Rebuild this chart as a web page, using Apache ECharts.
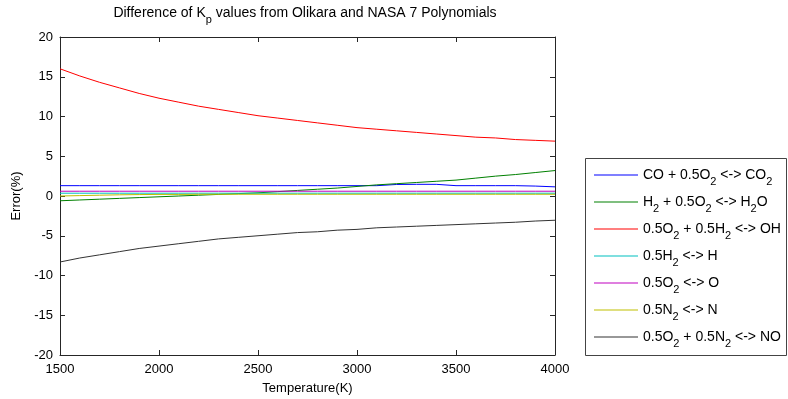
<!DOCTYPE html>
<html>
<head>
<meta charset="utf-8">
<script src="https://cdn.jsdelivr.net/npm/echarts@6/dist/echarts.min.js"></script>
<style>html,body{margin:0;padding:0;background:#fff}#c{width:788px;height:399px}</style>
</head>
<body>
<div id="c"></div>
<script>
// Temperatures (K)
const temps = [1500,1600,1700,1800,1900,2000,2100,2200,2300,2400,2500,2600,2700,2800,2900,3000,3100,3200,3300,3400,3500,3600,3700,3800,3900,4000];
// Error (%) per reaction
const coCO2 = [1.3,1.3,1.3,1.3,1.3,1.3,1.3,1.3,1.3,1.3,1.3,1.3,1.3,1.3,1.3,1.3,1.3,1.45,1.47,1.47,1.3,1.3,1.3,1.3,1.25,1.15];
const h2H2O = [-0.6,-0.5,-0.4,-0.3,-0.2,-0.1,0.0,0.1,0.2,0.3,0.4,0.55,0.7,0.85,1.0,1.2,1.4,1.55,1.7,1.85,2.0,2.25,2.5,2.7,2.95,3.2];
const ohR = [16.0,15.1,14.3,13.6,12.9,12.3,11.8,11.3,10.9,10.5,10.1,9.8,9.5,9.2,8.9,8.6,8.4,8.2,8.0,7.8,7.6,7.4,7.3,7.1,7.0,6.9];
const hR = [0.35,0.35,0.35,0.35,0.35,0.35,0.35,0.35,0.35,0.35,0.35,0.35,0.35,0.35,0.35,0.35,0.35,0.35,0.35,0.35,0.35,0.35,0.35,0.35,0.35,0.35];
const oR = [0.6,0.6,0.6,0.6,0.6,0.6,0.6,0.6,0.6,0.6,0.6,0.6,0.6,0.6,0.6,0.6,0.6,0.6,0.6,0.6,0.6,0.6,0.6,0.6,0.6,0.6];
const nR = [0.0,0.05,0.1,0.15,0.18,0.2,0.2,0.22,0.22,0.22,0.22,0.22,0.22,0.22,0.22,0.22,0.22,0.22,0.22,0.22,0.22,0.22,0.22,0.22,0.22,0.22];
const noR = [-8.3,-7.8,-7.4,-7.0,-6.6,-6.3,-6.0,-5.7,-5.4,-5.2,-5.0,-4.8,-4.6,-4.5,-4.3,-4.2,-4.0,-3.9,-3.8,-3.7,-3.6,-3.5,-3.4,-3.3,-3.15,-3.05];

const seriesNames = ['CO + 0.5O2 <-> CO2','H2 + 0.5O2 <-> H2O','0.5O2 + 0.5H2 <-> OH','0.5H2 <-> H','0.5O2 <-> O','0.5N2 <-> N','0.5O2 + 0.5N2 <-> NO'];
const seriesLabels = [
  '{n|CO + 0.5O}{s|2}{n| <-> CO}{s|2}',
  '{n|H}{s|2}{n| + 0.5O}{s|2}{n| <-> H}{s|2}{n|O}',
  '{n|0.5O}{s|2}{n| + 0.5H}{s|2}{n| <-> OH}',
  '{n|0.5H}{s|2}{n| <-> H}',
  '{n|0.5O}{s|2}{n| <-> O}',
  '{n|0.5N}{s|2}{n| <-> N}',
  '{n|0.5O}{s|2}{n| + 0.5N}{s|2}{n| <-> NO}'
];
const seriesValues = [coCO2,h2H2O,ohR,hR,oR,nR,noR];
const seriesColors = ['#0000FF','#008000','#FF0000','#00BFBF','#BF00BF','#BFBF00','#333333'];
const xTicks = {min:1500,max:4000,interval:500};
const yTicks = {min:-20,max:20,interval:5};

const FONT = 'Liberation Sans, Arial, sans-serif';
const AX = '#262626';
const rich = {
  n:{fontSize:14,lineHeight:24,verticalAlign:'middle',color:'#000',fontFamily:FONT,fontWeight:'normal'},
  s:{fontSize:11,lineHeight:8,verticalAlign:'bottom',color:'#000',fontFamily:FONT,fontWeight:'normal'}
};
const chart = echarts.init(document.getElementById('c'));
const axisCommon = {
  axisLine:{show:true,onZero:false,lineStyle:{color:AX,width:1}},
  axisTick:{show:true,inside:true,length:5,lineStyle:{color:AX}},
  splitLine:{show:false}
};
chart.setOption({
  animation:false,
  backgroundColor:'#fff',
  title:{
    text:'{n|Difference of K}{s|p}{n| values from Olikara and NASA 7 Polynomials}',
    left:305, textAlign:'center', top:1, padding:0,
    textStyle:{rich:rich,fontWeight:'normal'}
  },
  grid:{left:60,right:233,top:37,bottom:44,containLabel:false,outerBoundsMode:'none'},
  graphic:[{type:'rect',shape:{x:585.5,y:158.5,width:201,height:197},style:{fill:'#fff',stroke:'#444',lineWidth:1},z:0}],
  legend:{
    orient:'vertical', left:594, top:168, padding:0,
    icon:'rect', itemWidth:44, itemHeight:1, itemGap:8,
    data:seriesNames,
    formatter:function(name){return seriesLabels[seriesNames.indexOf(name)];},
    textStyle:{rich:rich}, z:5
  },
  xAxis:[
    Object.assign({type:'value',position:'bottom',min:xTicks.min,max:xTicks.max,interval:xTicks.interval,
      name:'Temperature(K)',nameLocation:'middle',nameGap:27,
      nameTextStyle:{fontSize:13,color:'#000',fontFamily:FONT},
      axisLabel:{fontSize:13,color:'#000',margin:8,fontFamily:FONT,formatter:function(v){return String(v);}}},axisCommon),
    Object.assign({type:'value',position:'top',min:xTicks.min,max:xTicks.max,interval:xTicks.interval,
      axisLabel:{show:false}},axisCommon)
  ],
  yAxis:[
    Object.assign({type:'value',position:'left',min:yTicks.min,max:yTicks.max,interval:yTicks.interval,
      name:'Error(%)',nameLocation:'middle',nameGap:32,
      nameTextStyle:{fontSize:13,color:'#000',fontFamily:FONT},
      axisLabel:{fontSize:13,color:'#000',margin:7,fontFamily:FONT}},axisCommon),
    Object.assign({type:'value',position:'right',min:yTicks.min,max:yTicks.max,interval:yTicks.interval,
      axisLabel:{show:false}},axisCommon)
  ],
  series:seriesNames.map(function(nm,i){
    return {
      name:nm,type:'line',symbol:'none',showSymbol:false,
      color:seriesColors[i],
      itemStyle:{color:seriesColors[i]},
      lineStyle:{width:1,color:seriesColors[i]},
      data:temps.map(function(t,j){return [t,seriesValues[i][j]];}),
      z:2+i
    };
  })
});
</script>
</body>
</html>
